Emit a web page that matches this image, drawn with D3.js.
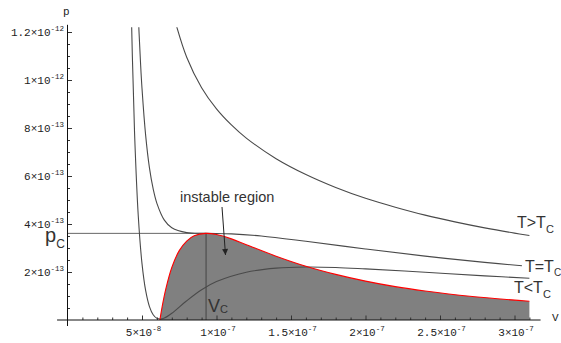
<!DOCTYPE html>
<meta charset="utf-8">
<style>
	body { margin: 0; background: #fff; }
	svg { display: block; }
	.tick line { stroke: #333; }
	.ticklab { font: 11px "Liberation Mono", monospace; fill: #222; }
	.note { font-family: "Liberation Sans", Arial, sans-serif; fill: #333; }
	.iso { fill: none; stroke: #4a4a4a; stroke-width: 1.1; }
</style>
<script src="https://d3js.org/d3.v7.min.js"></script>
<svg width="561" height="343" class="chart"></svg>
<script>
	// V in units of 1e-8, p in units of 1e-13
	var vHot = [7.2, 8, 9, 10, 11, 12, 14, 16, 18, 20, 22, 24, 26, 28, 30, 31];
	var pHot = [12.5, 10.95, 9.68, 8.80, 8.13, 7.58, 6.72, 6.06, 5.52, 5.07, 4.70, 4.37, 4.09, 3.84, 3.62, 3.52];

	var vCrit = [4.7, 4.8, 4.9, 5, 5.25, 5.5, 5.75, 6, 6.5, 7, 8, 9.3, 11, 13, 16, 20, 24, 28, 30.5];
	var pCrit = [13.56, 12.0, 10.73, 9.65, 7.66, 6.34, 5.46, 4.86, 4.16, 3.84, 3.64, 3.61, 3.59, 3.50, 3.28, 2.96, 2.66, 2.40, 2.26];

	var vCold = [4.25, 4.35, 4.5, 4.75, 5, 5.25, 5.5, 5.75, 6, 6.25, 6.5, 7, 8, 9, 10, 12, 14, 16, 18, 20, 24, 28, 31];
	var pCold = [13.9, 11.05, 7.80, 4.33, 2.35, 1.21, 0.56, 0.22, 0.07, 0.04, 0.08, 0.28, 0.80, 1.26, 1.60, 1.99, 2.16, 2.21, 2.19, 2.13, 1.99, 1.84, 1.74];

	var vSpin = [6.2, 6.4, 6.6, 7, 7.5, 8, 8.5, 9.3, 10, 11, 12, 14, 16, 18, 20, 22, 24, 27, 31];
	var pSpin = [0, 0.71, 1.30, 2.19, 2.89, 3.29, 3.51, 3.61, 3.56, 3.38, 3.14, 2.66, 2.24, 1.90, 1.62, 1.39, 1.21, 0.99, 0.78];

	var Vc = 9.3, pc = 3.61;

	var xTicks = [5, 10, 15, 20, 25, 30];
	var xMant = ["5", "1", "1.5", "2", "2.5", "3"];
	var xExp = ["-8", "-7", "-7", "-7", "-7", "-7"];
	var yTicks = [2, 4, 6, 8, 10, 12];
	var yMant = ["2", "4", "6", "8", "1", "1.2"];
	var yExp = ["-13", "-13", "-13", "-13", "-12", "-12"];

	var svg = d3.select(".chart");

	var x = d3.scaleLinear().domain([0, 30]).range([67.5, 514.5]);
	var y = d3.scaleLinear().domain([0, 12]).range([320, 32]);

	function pts(vs, ps) {
		return vs.map(function(v, i) { return [v, ps[i]]; });
	}

	svg.append("clipPath").attr("id", "clip")
		.append("rect")
		.attr("x", x(0)).attr("y", y(12.2))
		.attr("width", x(32) - x(0)).attr("height", y(0) - y(12.2));

	var plot = svg.append("g").attr("clip-path", "url(#clip)");

	var line = d3.line()
		.x(function(d) { return x(d[0]); })
		.y(function(d) { return y(d[1]); })
		.curve(d3.curveCatmullRom.alpha(0.5));

	var area = d3.area()
		.x(function(d) { return x(d[0]); })
		.y0(y(0))
		.y1(function(d) { return y(d[1]); })
		.curve(d3.curveCatmullRom.alpha(0.5));

	// instable region
	plot.append("path")
		.datum(pts(vSpin, pSpin))
		.attr("d", area)
		.attr("fill", "#808080");

	// critical point guides
	plot.append("line")
		.attr("x1", x(0)).attr("x2", x(Vc))
		.attr("y1", y(pc)).attr("y2", y(pc))
		.attr("stroke", "#666");
	plot.append("line")
		.attr("x1", x(Vc)).attr("x2", x(Vc))
		.attr("y1", y(pc)).attr("y2", y(0))
		.attr("stroke", "#444");

	[[vHot, pHot], [vCrit, pCrit], [vCold, pCold]].forEach(function(s) {
		plot.append("path")
			.datum(pts(s[0], s[1]))
			.attr("class", "iso")
			.attr("d", line);
	});

	plot.append("path")
		.datum(pts(vSpin, pSpin))
		.attr("d", line)
		.attr("fill", "none")
		.attr("stroke", "#ff0000")
		.attr("stroke-width", 1.1);

	// axes
	var xMinor = d3.range(1, 32).filter(function(v) { return v % 5 !== 0; });
	var yMinor = d3.range(0.5, 12.1, 0.5).filter(function(v) { return v % 2 !== 0; });

	svg.append("g")
		.attr("transform", "translate(0," + y(0) + ")")
		.call(d3.axisBottom(x).tickValues(xMinor).tickSize(-2.5).tickFormat(""))
		.call(function(g) { g.select(".domain").remove(); });
	svg.append("g")
		.attr("transform", "translate(0," + y(0) + ")")
		.call(d3.axisBottom(x).tickValues(xTicks).tickSize(-4.5).tickFormat(""))
		.call(function(g) { g.select(".domain").remove(); });
	svg.append("g")
		.attr("transform", "translate(" + x(0) + ",0)")
		.call(d3.axisLeft(y).tickValues(yMinor).tickSize(-2.5).tickFormat(""))
		.call(function(g) { g.select(".domain").remove(); });
	svg.append("g")
		.attr("transform", "translate(" + x(0) + ",0)")
		.call(d3.axisLeft(y).tickValues(yTicks).tickSize(-4.5).tickFormat(""))
		.call(function(g) { g.select(".domain").remove(); });

	svg.append("line")
		.attr("x1", x(-0.7)).attr("x2", x(31.75))
		.attr("y1", y(0)).attr("y2", y(0))
		.attr("stroke", "#111");
	svg.append("line")
		.attr("x1", x(0)).attr("x2", x(0))
		.attr("y1", y(12.3)).attr("y2", y(-0.25))
		.attr("stroke", "#111");

	var xl = svg.selectAll(".xlab")
		.data(xTicks)
		.enter().append("text")
			.attr("class", "ticklab")
			.attr("text-anchor", "middle")
			.attr("x", function(d) { return x(d) + 1.5; })
			.attr("y", 336);
	xl.append("tspan").text(function(d, i) { return xMant[i] + "\u00d710"; });
	xl.append("tspan").attr("dy", -5).attr("font-size", 7.5).text(function(d, i) { return xExp[i]; });

	var yl = svg.selectAll(".ylab")
		.data(yTicks)
		.enter().append("text")
			.attr("class", "ticklab")
			.attr("text-anchor", "end")
			.attr("x", 64)
			.attr("y", function(d) { return y(d) + 4; });
	yl.append("tspan").text(function(d, i) { return yMant[i] + "\u00d710"; });
	yl.append("tspan").attr("dy", -5).attr("font-size", 7.5).text(function(d, i) { return yExp[i]; });

	svg.append("text").attr("class", "ticklab").attr("font-weight", "bold")
		.attr("x", 63).attr("y", 15).text("p");
	svg.append("text").attr("class", "ticklab").attr("font-weight", "bold")
		.attr("x", 552).attr("y", 321).text("V");

	// annotations
	function subLabel(tx, ty, main, sub, size, subSize, subDy) {
		var t = svg.append("text").attr("class", "note")
			.attr("x", tx).attr("y", ty).attr("font-size", size);
		t.append("tspan").text(main);
		t.append("tspan").attr("font-size", subSize).attr("dy", subDy).text(sub);
	}
	subLabel(517, 228, "T>T", "C", 16, 11, 5);
	subLabel(525, 272, "T=T", "C", 16, 10, 4);
	subLabel(514, 293, "T<T", "C", 16, 11, 5);
	subLabel(45, 242, "p", "C", 20, 12, 6);
	subLabel(208, 312, "V", "C", 18, 11, 1);

	svg.append("text").attr("class", "note")
		.attr("x", 180).attr("y", 202).attr("font-size", 14.5)
		.text("instable region");

	svg.append("defs").append("marker")
		.attr("id", "head")
		.attr("viewBox", "0 0 10 10")
		.attr("refX", 10).attr("refY", 5)
		.attr("markerWidth", 7).attr("markerHeight", 6)
		.attr("markerUnits", "userSpaceOnUse")
		.attr("orient", "auto")
		.append("path").attr("d", "M0,0L10,5L0,10z").attr("fill", "#222");

	svg.append("line")
		.attr("x1", 222).attr("y1", 207)
		.attr("x2", 225.5).attr("y2", 255)
		.attr("stroke", "#222")
		.attr("marker-end", "url(#head)");
</script>
